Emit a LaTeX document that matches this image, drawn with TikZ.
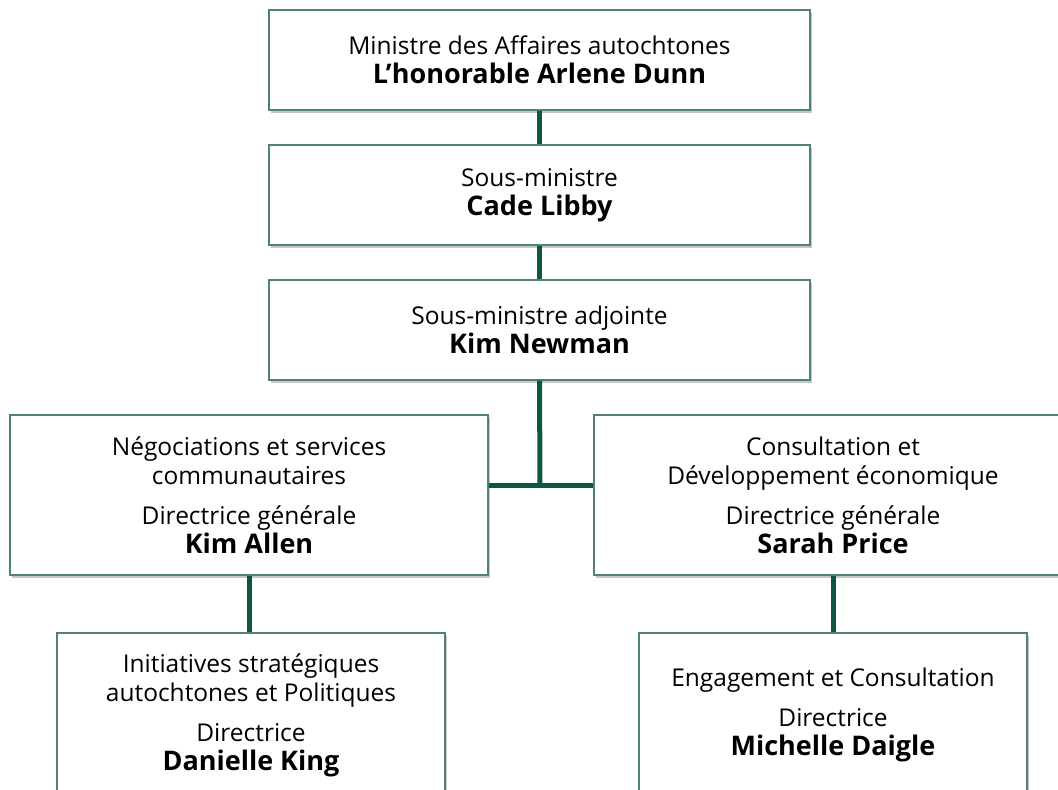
\documentclass[tikz,border=0pt]{standalone}
\usepackage{fontspec}
\setmainfont{Open Sans}
\usetikzlibrary{positioning, calc, shadows}
\definecolor{vertfonce}{HTML}{0E5545}
\definecolor{bordure}{HTML}{4F8177}
\tikzset{
  poste/.style={draw=bordure, line width=1.2pt, fill=white, align=center, inner sep=0pt,
    drop shadow={shadow xshift=2pt, shadow yshift=-3pt, opacity=0.22, fill=black},
    font=\fontsize{24.5}{29}\selectfont},
  lien/.style={draw=vertfonce, line width=5pt}
}
\newcommand{\nom}[1]{{\fontsize{27}{29}\selectfont\bfseries #1}}
\begin{document}
\begin{tikzpicture}[x=1pt, y=-1pt]
\clip (0,0) rectangle (1058,790);
% haut de l'organigramme
\node[poste, minimum width=541pt, minimum height=100pt] (ministre) at (539.5,60)
  {Ministre des Affaires autochtones\\\nom{L’honorable Arlene Dunn}};
\node[poste, minimum width=541pt, minimum height=100pt] (sousmin) at (539.5,195)
  {Sous-ministre\\\nom{Cade Libby}};
\node[poste, minimum width=541pt, minimum height=100pt] (adjointe) at (539.5,330)
  {Sous-ministre adjointe\\\nom{Kim Newman}};
% directions generales
\node[poste, minimum width=478pt, minimum height=160pt] (dgnego) at (249,495)
  {Négociations et services\\communautaires\\[11pt]Directrice générale\\\nom{Kim Allen}};
\node[poste, minimum width=478pt, minimum height=160pt] (dgconsult) at (833,495)
  {Consultation et\\Développement économique\\[11pt]Directrice générale\\\nom{Sarah Price}};
% directions
\node[poste, minimum width=388pt, minimum height=164pt] (dirinit) at (251,715)
  {Initiatives stratégiques\\autochtones et Politiques\\[11pt]Directrice\\\nom{Danielle King}};
\node[poste, minimum width=388pt, minimum height=164pt] (direngage) at (833,715)
  {Engagement et Consultation\\[11pt]Directrice\\\nom{Michelle Daigle}};
\coordinate (jonction) at (540,485);
\draw[lien] (ministre) -- (sousmin);
\draw[lien] (sousmin) -- (adjointe);
\draw[lien] (adjointe.south) -- (jonction);
\draw[lien] (dgnego.east |- jonction) -- (dgconsult.west |- jonction);
\draw[lien] (dgnego.south) -- (dgnego.south |- dirinit.north);
\draw[lien] (dgconsult) -- (direngage);
\end{tikzpicture}
\end{document}
